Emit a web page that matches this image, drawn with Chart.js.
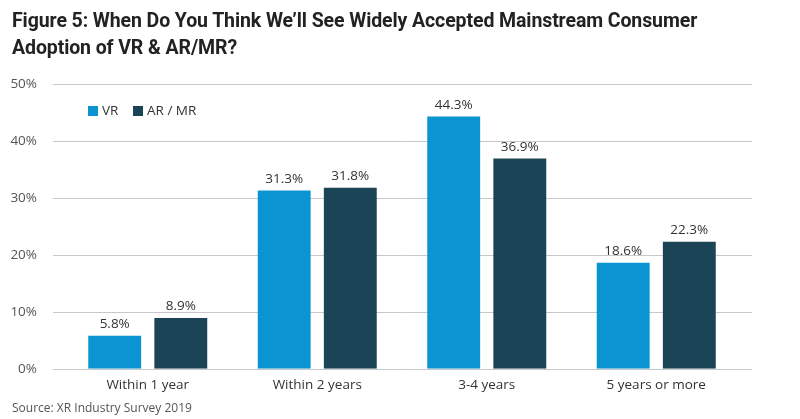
<!DOCTYPE html>
<html><head><meta charset="utf-8">
<script src="https://cdn.jsdelivr.net/npm/chart.js@4"></script>
<style>
html,body{margin:0;padding:0;background:#fff;}
#wrap{position:relative;width:800px;height:419px;}
#title{position:absolute;left:12px;top:7px;font-family:Roboto,"Open Sans",sans-serif;font-weight:700;font-size:19.5px;line-height:27px;color:#222;letter-spacing:-0.1px;}
#src{position:absolute;left:12px;top:399px;font-family:"Open Sans",Lato,sans-serif;font-size:12px;color:#555;}
#c{position:absolute;left:0;top:0;}
</style></head><body>
<div id="wrap">
<canvas id="c" width="800" height="419"></canvas>
<div id="title">Figure 5: When Do You Think We’ll See Widely Accepted Mainstream Consumer<br>Adoption of VR &amp; AR/MR?</div>
<div id="src">Source: XR Industry Survey 2019</div>
</div>
<script>
const categories = ["Within 1 year","Within 2 years","3-4 years","5 years or more"];
const vrValues = [5.8, 31.3, 44.3, 18.6];
const armrValues = [8.9, 31.8, 36.9, 22.3];
const yTicks = [0,10,20,30,40,50];
const FONT = "'Open Sans', Lato, sans-serif";

const gridPlugin = {
  id:'grid',
  beforeDatasetsDraw(chart){
    const {ctx} = chart; const y = chart.scales.y;
    ctx.save(); ctx.strokeStyle='#c8c8c8'; ctx.lineWidth=1;
    yTicks.forEach(v=>{const py=Math.round(y.getPixelForValue(v))+0.5;ctx.beginPath();ctx.moveTo(53,py);ctx.lineTo(752,py);ctx.stroke();});
    ctx.restore();
  },
  afterDatasetsDraw(chart){
    const {ctx} = chart;
    ctx.save(); ctx.font = "13.5px "+FONT; ctx.fillStyle='#333'; ctx.textAlign='center'; ctx.textBaseline='bottom';
    chart.data.datasets.forEach((ds,i)=>{
      chart.getDatasetMeta(i).data.forEach((bar,j)=>{ctx.fillText(ds.data[j].toFixed(1)+'%', bar.x, bar.y-5);});
    });
    ctx.restore();
  }
};

new Chart(document.getElementById('c'),{
  type:'bar',
  data:{labels:categories,datasets:[
    {label:'VR',data:vrValues,backgroundColor:'#0a94d2',barPercentage:0.80,categoryPercentage:0.78},
    {label:'AR / MR',data:armrValues,backgroundColor:'#1b4556',barPercentage:0.80,categoryPercentage:0.78}
  ]},
  options:{
    responsive:false,animation:false,devicePixelRatio:1,
    layout:{padding:{left:0,right:59,top:84,bottom:26}},
    plugins:{legend:{display:false},tooltip:{enabled:false}},
    scales:{
      x:{grid:{display:false},border:{display:false},ticks:{color:'#333',font:{family:FONT,size:13.5},padding:0}},
      y:{min:0,max:50,afterFit(s){s.width=63;},grid:{display:false},border:{display:false},
         ticks:{stepSize:10,color:'#555',font:{family:FONT,size:13.5},padding:18,callback:v=>v+'%'}}
    }
  },
  plugins:[gridPlugin,{
    id:'leg',
    afterDraw(chart){
      const {ctx}=chart; ctx.save(); ctx.font="13.5px "+FONT; ctx.textBaseline='middle';
      ctx.fillStyle='#0a94d2'; ctx.fillRect(88,106,10,10); ctx.fillStyle='#333'; ctx.fillText('VR',102,111);
      ctx.fillStyle='#1b4556'; ctx.fillRect(133,106,10,10); ctx.fillStyle='#333'; ctx.fillText('AR / MR',147,111);
      ctx.restore();
    }
  }]
});
</script>
</body></html>
